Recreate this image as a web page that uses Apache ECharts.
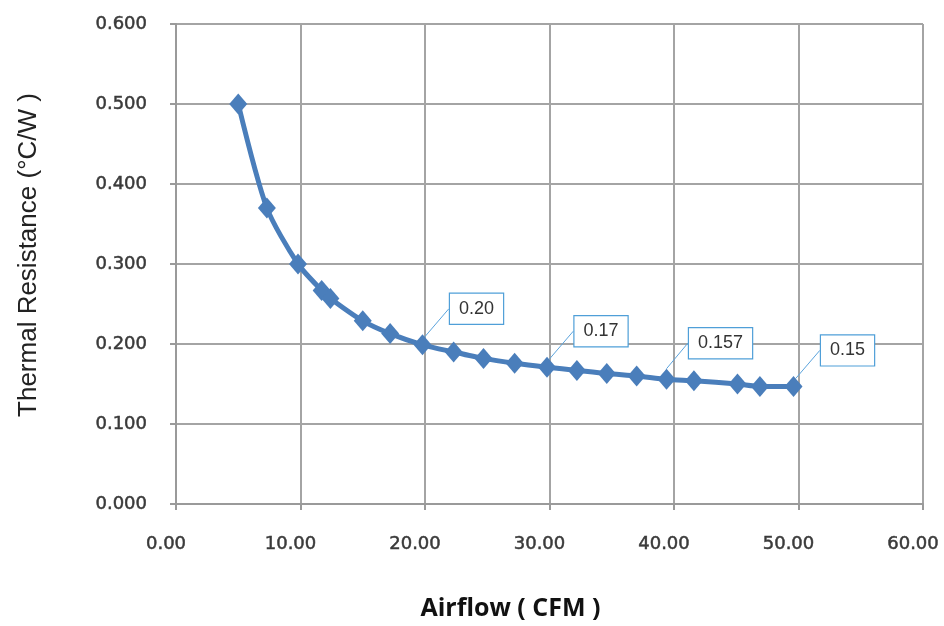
<!DOCTYPE html>
<html><head><meta charset="utf-8">
<script src="https://cdn.jsdelivr.net/npm/echarts@6/dist/echarts.min.js"></script>
<style>html,body{margin:0;padding:0;background:#fff}#c{width:944px;height:626px}</style>
</head><body><div id="c"></div>
<script>
const airflow = [5.0, 7.3, 9.8, 11.7, 12.4, 15.0, 17.2, 19.8, 22.3, 24.7, 27.2, 29.8, 32.2, 34.6, 37.0, 39.4, 41.6, 45.1, 46.9, 49.6];
const resistance = [0.500, 0.370, 0.300, 0.267, 0.257, 0.229, 0.213, 0.199, 0.190, 0.182, 0.176, 0.171, 0.167, 0.163, 0.160, 0.156, 0.154, 0.150, 0.147, 0.147];
const calloutIndex = [7, 11, 15, 19];
const calloutText = ['0.20', '0.17', '0.157', '0.15'];
const xTicks = ['0.00','10.00','20.00','30.00','40.00','50.00','60.00'];

const data = airflow.map((x, i) => {
  const k = calloutIndex.indexOf(i);
  const d = { value: [x, resistance[i]] };
  if (k >= 0) {
    d.label = { show: true, formatter: calloutText[k] };
  }
  return d;
});

const tickStyle = { fontFamily: 'DejaVu Sans', fontSize: 18, color: '#3a3a3a',
  textBorderColor: '#3a3a3a', textBorderWidth: 0.5 };

const chart = echarts.init(document.getElementById('c'));
chart.setOption({
  animation: false,
  grid: { left: 176, right: 21, top: 24, bottom: 122 },
  xAxis: {
    type: 'value', min: 0, max: 60, interval: 10,
    name: 'Airflow ( CFM )', nameLocation: 'middle', nameGap: 92,
    nameTextStyle: { fontFamily: 'Open Sans', fontWeight: 'bold', fontSize: 25, color: '#111', padding: [0, 78, 0, 0] },
    axisLine: { show: true, lineStyle: { color: '#9a9a9a', width: 2 } },
    axisTick: { show: true, length: 6, lineStyle: { color: '#9a9a9a', width: 2 } },
    axisLabel: Object.assign({ margin: 31, padding: [0, 20, 0, 0],
      formatter: v => xTicks[Math.round(v / 10)] }, tickStyle),
    splitLine: { show: true, lineStyle: { color: '#a4a4a4', width: 2 } }
  },
  yAxis: {
    type: 'value', min: 0, max: 0.6, interval: 0.1,
    name: 'Thermal Resistance (°C/W )', nameLocation: 'middle', nameGap: 134,
    nameTextStyle: { fontFamily: 'Liberation Sans', fontSize: 26, color: '#222', padding: [0, 0, 0, 18] },
    axisLine: { show: true, lineStyle: { color: '#9a9a9a', width: 2 } },
    axisTick: { show: true, length: 6, lineStyle: { color: '#9a9a9a', width: 2 } },
    axisLabel: Object.assign({ margin: 29, formatter: v => v.toFixed(3) }, tickStyle),
    splitLine: { show: true, lineStyle: { color: '#a4a4a4', width: 2 } }
  },
  series: [{
    type: 'line',
    data: data,
    smooth: 0.25,
    symbol: 'diamond',
    symbolSize: [18, 21],
    lineStyle: { color: '#4a7ebb', width: 5 },
    itemStyle: { color: '#4a7ebb' },
    label: {
      show: false, position: 'inside',
      fontFamily: 'Liberation Sans', fontSize: 18, color: '#333',
      backgroundColor: '#fff', borderColor: '#4f9fd8', borderWidth: 1.2,
      padding: [7, 9, 5, 9]
    },
    labelLine: { show: true, lineStyle: { color: '#5ba3dc', width: 1 } },
    labelLayout: function (p) {
      return { dx: 54, dy: -36 };
    }
  }]
});
</script></body></html>
